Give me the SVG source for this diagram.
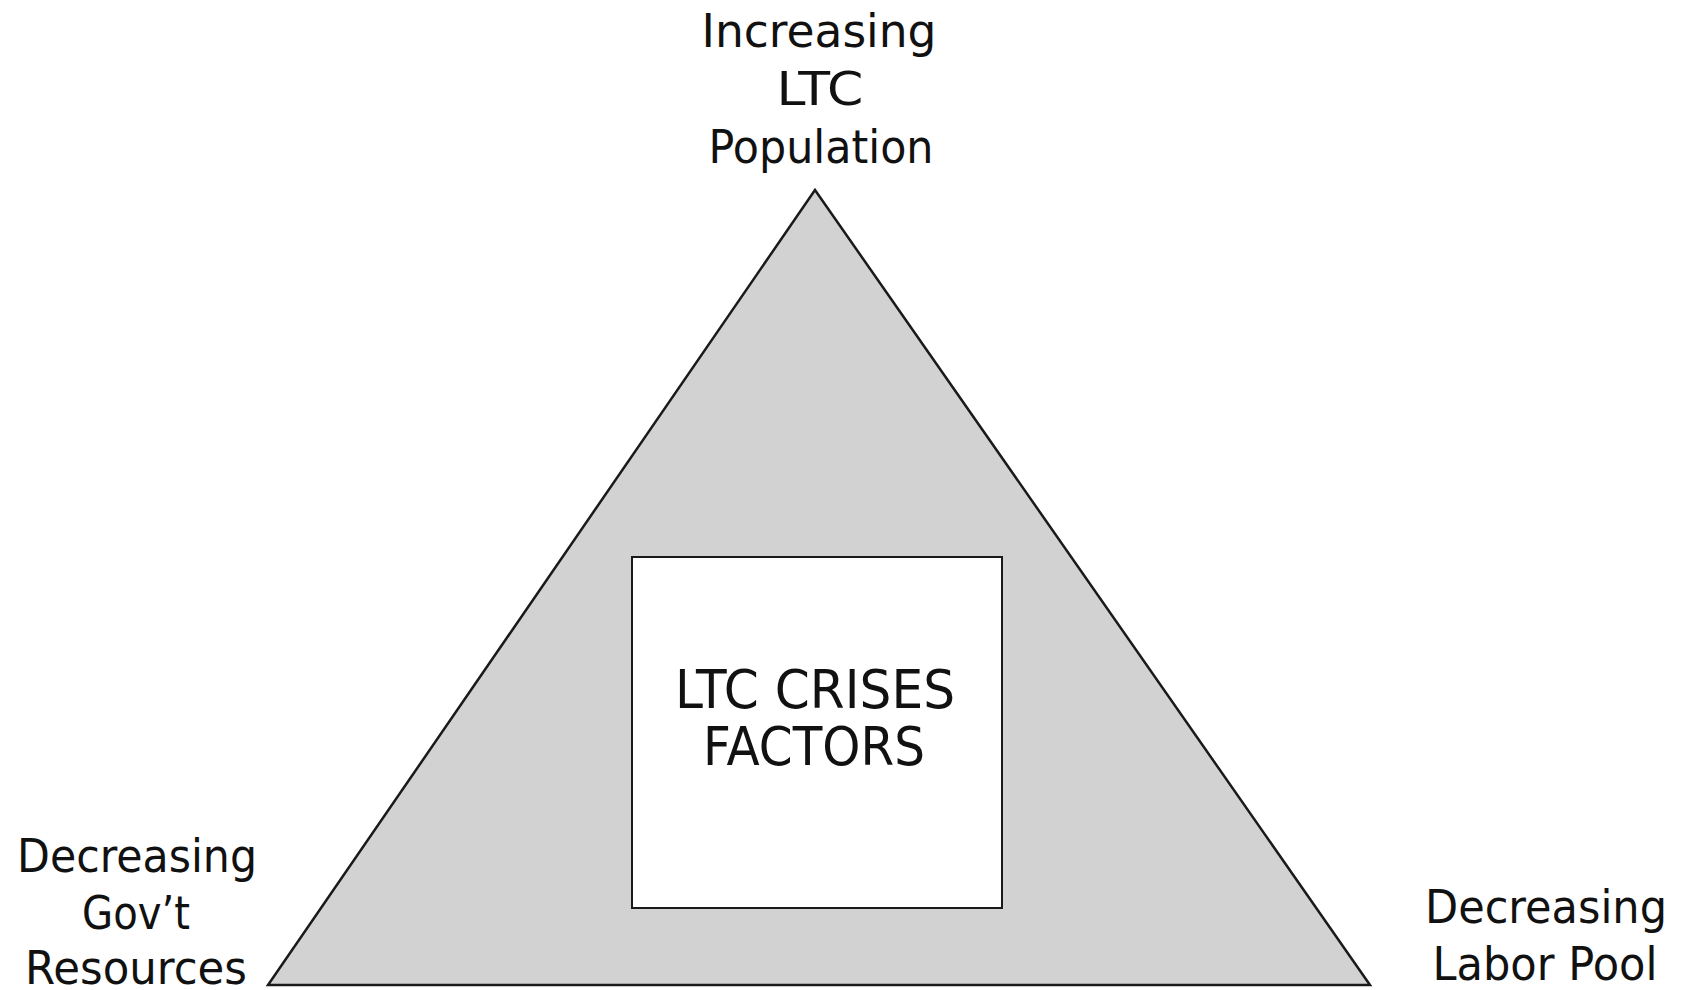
<svg xmlns="http://www.w3.org/2000/svg" width="1686" height="990" viewBox="0 0 1686 990">
<style>
text{font-family:"DejaVu Sans","Noto Sans",sans-serif;fill:#111;text-anchor:middle}
.lbl{font-size:47px}
.box{font-size:53px}
</style>
<rect width="1686" height="990" fill="#fff"/>
<g id="triangle">
<polygon points="815,190 1370,985 268,985" fill="#d2d2d2" stroke="#1a1a1a" stroke-width="2.5" stroke-linejoin="miter"/>
</g>
<g id="center-box">
<rect x="632" y="557" width="370" height="351" fill="#fff" stroke="#1a1a1a" stroke-width="2"/>
<text class="box" x="815" y="708" textLength="280" lengthAdjust="spacingAndGlyphs">LTC CRISES</text>
<text class="box" x="814" y="765" textLength="222" lengthAdjust="spacingAndGlyphs">FACTORS</text>
</g>
<g id="top-label">
<text class="lbl" x="819" y="47" textLength="235" lengthAdjust="spacingAndGlyphs">Increasing</text>
<text class="lbl" x="820" y="105" textLength="87" lengthAdjust="spacingAndGlyphs">LTC</text>
<text class="lbl" x="821" y="163" textLength="225" lengthAdjust="spacingAndGlyphs">Population</text>
</g>
<g id="left-label">
<text class="lbl" x="137" y="872" textLength="240" lengthAdjust="spacingAndGlyphs">Decreasing</text>
<text class="lbl" x="136" y="929" textLength="108" lengthAdjust="spacingAndGlyphs">Gov’t</text>
<text class="lbl" x="136" y="984" textLength="222" lengthAdjust="spacingAndGlyphs">Resources</text>
</g>
<g id="right-label">
<text class="lbl" x="1546" y="923" textLength="242" lengthAdjust="spacingAndGlyphs">Decreasing</text>
<text class="lbl" x="1545" y="980" textLength="225" lengthAdjust="spacingAndGlyphs">Labor Pool</text>
</g>
<g id="connectors"></g>
</svg>
